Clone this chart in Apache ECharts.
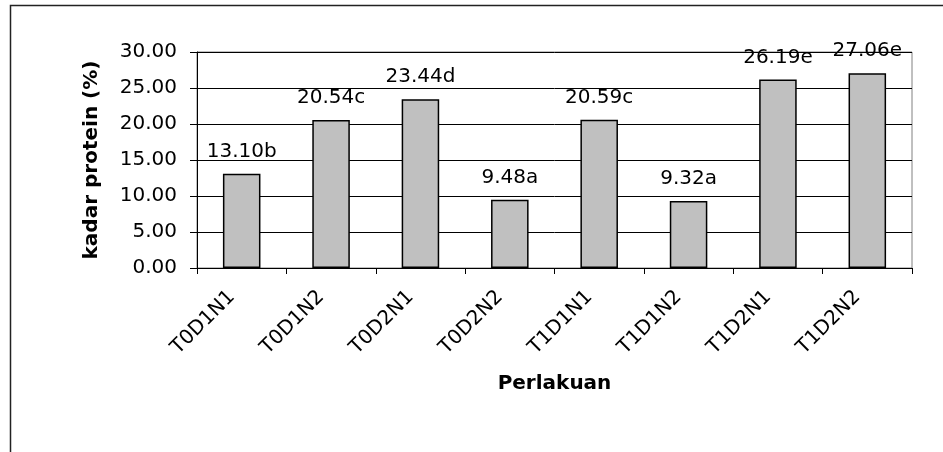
<!DOCTYPE html>
<html>
<head>
<meta charset="utf-8">
<script src="https://cdn.jsdelivr.net/npm/echarts@6/dist/echarts.min.js"></script>
<style>
html,body{margin:0;padding:0;background:#fff;}
#chart{width:943px;height:452px;}
</style>
</head>
<body>
<div id="chart"></div>
<script>
const categories = ['T0D1N1','T0D1N2','T0D2N1','T0D2N2','T1D1N1','T1D1N2','T1D2N1','T1D2N2'];
const values = [13.10, 20.54, 23.44, 9.48, 20.59, 9.32, 26.19, 27.06];
const letters = ['b','c','d','a','c','a','e','e'];
const yTicks = [0, 5, 10, 15, 20, 25, 30];

const FONT = 'DejaVu Sans';
const chart = echarts.init(document.getElementById('chart'), null, {renderer:'canvas'});
chart.setOption({
  animation: false,
  backgroundColor: '#fff',
  graphic: [{
    type: 'rect', silent: true, z: 100,
    shape: {x: 10.5, y: 5.5, width: 960, height: 480},
    style: {fill: 'none', stroke: '#222', lineWidth: 1.5}
  }],
  grid: {
    left: 197, right: 31, top: 52, bottom: 184,
    show: true, borderColor: '#808080', borderWidth: 1, backgroundColor: 'transparent'
  },
  xAxis: {
    type: 'category',
    data: categories,
    name: 'Perlakuan',
    nameLocation: 'middle',
    nameGap: 106,
    nameTextStyle: {fontFamily: FONT, fontSize: 20, fontWeight: 'bold', color: '#000'},
    axisLine: {lineStyle: {color: '#000', width: 1}},
    axisTick: {show: true, length: 6, lineStyle: {color: '#000'}},
    axisLabel: {rotate: 45, margin: 16, padding: [0, 14, 0, 0], fontFamily: FONT, fontSize: 20, color: '#000', interval: 0}
  },
  yAxis: {
    type: 'value',
    min: yTicks[0], max: yTicks[yTicks.length - 1], interval: 5,
    name: 'kadar protein (%)',
    nameLocation: 'middle',
    nameGap: 95,
    nameTextStyle: {fontFamily: FONT, fontSize: 20, fontWeight: 'bold', color: '#000'},
    axisLine: {show: true, lineStyle: {color: '#000', width: 1}},
    axisTick: {show: true, length: 7, lineStyle: {color: '#000'}},
    axisLabel: {margin: 20, fontFamily: FONT, fontSize: 20, color: '#000', formatter: v => v.toFixed(2)},
    splitLine: {show: true, lineStyle: {color: '#000', width: 1}}
  },
  series: [{
    type: 'bar',
    data: values,
    barCategoryGap: '58%',
    itemStyle: {color: '#c0c0c0', borderColor: '#000', borderWidth: 1.5},
    label: {
      show: true, position: 'top', distance: 12,
      fontFamily: FONT, fontSize: 20, color: '#000',
      formatter: p => values[p.dataIndex].toFixed(2) + letters[p.dataIndex]
    }
  }]
});
</script>
</body>
</html>
